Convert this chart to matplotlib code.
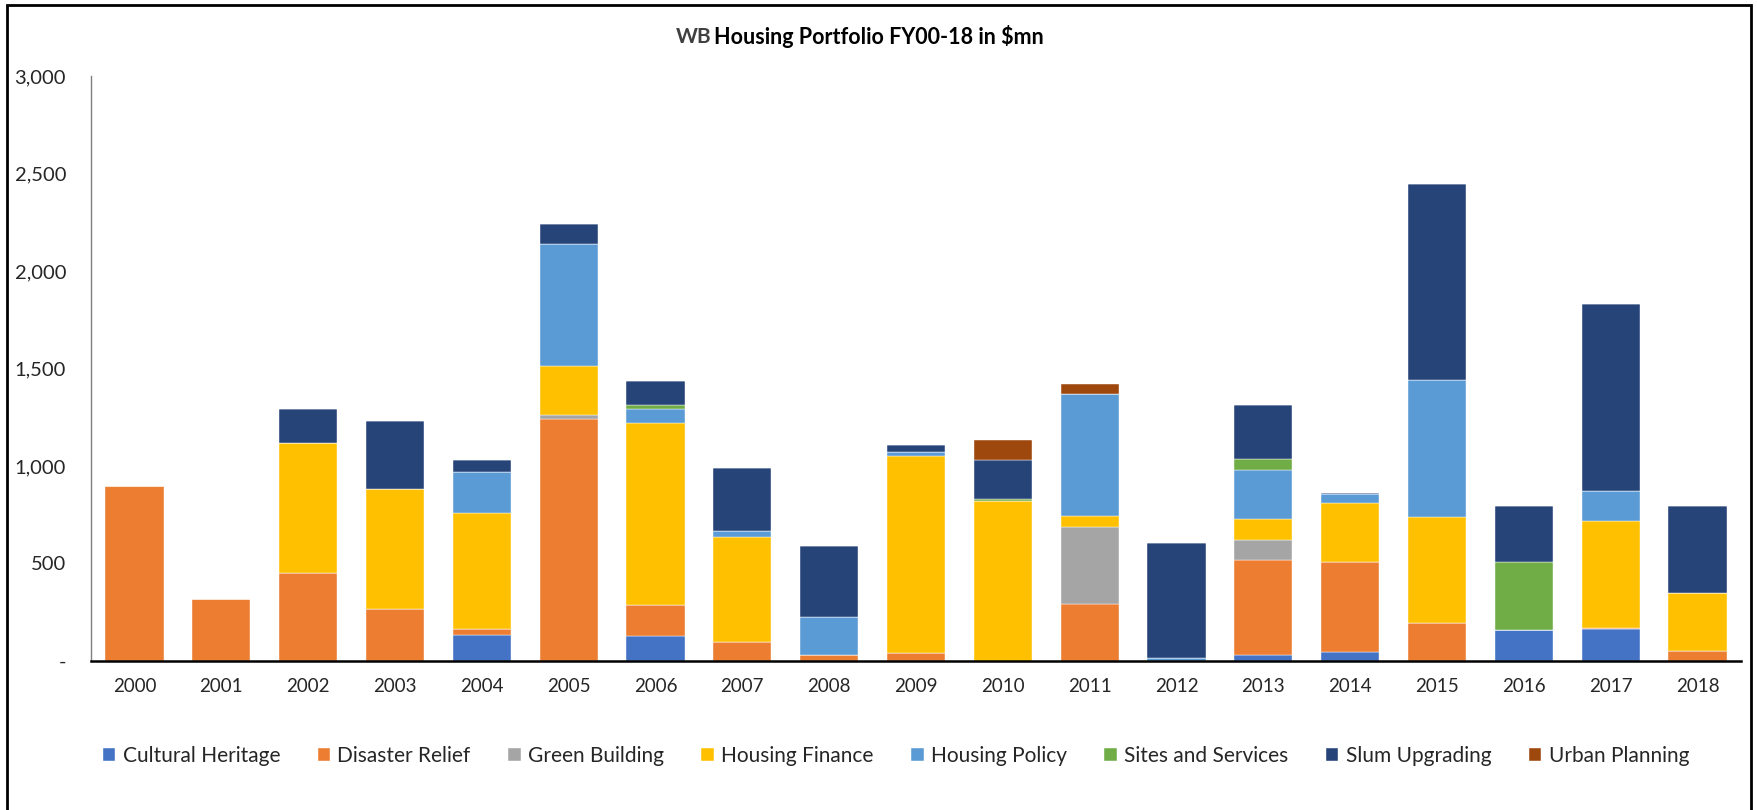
import numpy as np
import matplotlib
matplotlib.use("Agg")
import matplotlib.pyplot as plt
from matplotlib.patches import Rectangle
from matplotlib.ticker import FuncFormatter

plt.rcParams["font.family"] = ["Lato", "DejaVu Sans"]

years = [str(y) for y in range(2000, 2019)]

# $mn per category (stacked bottom -> top)
cultural_heritage = [0, 0, 0, 0, 133, 0, 128, 0, 0, 0, 0, 0, 0, 29, 45, 0, 157, 164, 0]
disaster_relief = [900, 320, 450, 267, 31, 1241, 158, 99, 31, 43, 0, 292, 0, 489, 463, 197, 0, 5, 51]
green_building = [0, 0, 0, 0, 0, 21, 0, 0, 0, 0, 0, 397, 0, 103, 0, 0, 0, 0, 0]
housing_finance = [0, 0, 668, 615, 595, 251, 936, 537, 0, 1007, 822, 56, 0, 107, 301, 541, 0, 549, 298]
housing_policy = [0, 0, 0, 0, 212, 625, 72, 29, 196, 23, 0, 624, 15, 253, 49, 701, 0, 152, 0]
sites_services = [0, 0, 0, 0, 0, 0, 21, 0, 0, 0, 10, 0, 0, 57, 0, 0, 349, 0, 0]
slum_upgrading = [0, 0, 176, 349, 58, 105, 120, 326, 364, 35, 199, 0, 590, 273, 5, 1005, 287, 962, 444]
urban_planning = [0, 0, 0, 0, 0, 0, 0, 0, 0, 0, 102, 50, 0, 0, 0, 0, 0, 0, 0]

series = [
    ("Cultural Heritage", cultural_heritage, "#4472C4"),
    ("Disaster Relief", disaster_relief, "#ED7D31"),
    ("Green Building", green_building, "#A5A5A5"),
    ("Housing Finance", housing_finance, "#FFC000"),
    ("Housing Policy", housing_policy, "#5B9BD5"),
    ("Sites and Services", sites_services, "#70AD47"),
    ("Slum Upgrading", slum_upgrading, "#264478"),
    ("Urban Planning", urban_planning, "#9E480E"),
]

W, H = 1757, 810
fig = plt.figure(figsize=(W / 100, H / 100), dpi=100)
ax = fig.add_axes([91 / W, 1 - 661 / H, (1741 - 91) / W, (661 - 76) / H])

x = np.arange(len(years))
bottom = np.zeros(len(years))
for name, vals, color in series:
    vals = np.array(vals, dtype=float)
    ax.bar(x, vals, 0.67, bottom=bottom, color=color, label=name,
           edgecolor="white", linewidth=0.3)
    bottom += vals

ax.set_xlim(-0.5, len(years) - 0.5)
ax.set_ylim(0, 3000)
ax.set_yticks(range(0, 3001, 500))
ax.yaxis.set_major_formatter(FuncFormatter(lambda v, p: "-" if v == 0 else f"{int(v):,}"))
ax.set_xticks(x)
ax.set_xticklabels(years)
ax.tick_params(axis="both", length=0, colors="#262626")
ax.tick_params(axis="y", pad=18, labelsize=14.5)
ax.tick_params(axis="x", pad=12, labelsize=13.5)

for s in ["top", "right"]:
    ax.spines[s].set_visible(False)
ax.spines["left"].set_color("#7f7f7f")
ax.spines["left"].set_linewidth(1.0)
ax.spines["bottom"].set_color("black")
ax.spines["bottom"].set_linewidth(1.8)

# title: grey "WB" followed by the rest in black
fig.text(711 / W, 1 - 37 / H, "WB", ha="right", va="center", fontsize=15,
         fontweight="bold", color="#404040")
fig.text(714 / W, 1 - 37 / H, "Housing Portfolio FY00-18 in $mn", ha="left",
         va="center", fontsize=15.5, fontweight="bold", color="black")

fig.legend(loc="center", bbox_to_anchor=(896 / W, 1 - 756 / H), ncol=8,
           frameon=False, fontsize=15, handlelength=0.6, handleheight=0.6,
           handletextpad=0.35, columnspacing=1.8, labelcolor="#262626")

fig.patches.append(Rectangle((7 / W, -0.02), (1751 - 7) / W, 1.02 - 5 / H,
                             transform=fig.transFigure, fill=False,
                             edgecolor="black", linewidth=2))

fig.savefig("out.png", dpi=100)
